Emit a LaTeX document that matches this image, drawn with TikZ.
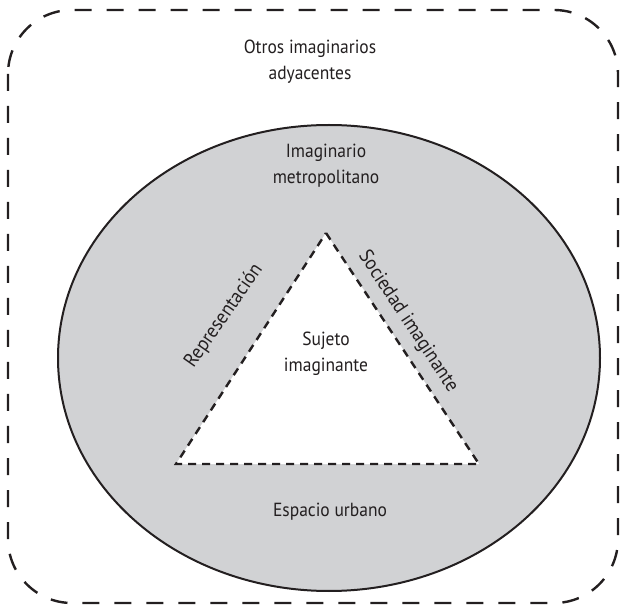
\documentclass[tikz,border=0pt]{standalone}
\usepackage{fontspec}
\setmainfont[FakeStretch=0.92]{PT Sans}
\usetikzlibrary{shapes.geometric}
\definecolor{ink}{HTML}{231F20}
\definecolor{shade}{HTML}{D1D2D4}
\tikzset{
  outerframe/.style={draw=ink, line width=2.4pt, dash pattern=on 17pt off 15pt, rounded corners=64pt},
  region/.style={draw=ink, line width=2pt, fill=shade},
  core/.style={draw=ink, line width=2.4pt, dash pattern=on 8pt off 6pt, fill=white},
  lbl/.style={text=ink, font=\fontsize{19}{26}\selectfont, align=center, inner sep=0pt},
  sidelbl/.style={lbl, font=\fontsize{20}{26}\selectfont},
}
\begin{document}
\begin{tikzpicture}[x=1pt,y=-1pt]
\useasboundingbox (0,0) rectangle (625,615);
% outer dashed frame
\draw[outerframe] (8,10) rectangle (618,603);
% metropolitan ellipse
\node[region, ellipse, minimum width=542pt, minimum height=466pt, inner sep=0pt] (metro) at (329,358) {};
% triangle corners
\coordinate (apex) at (326,233);
\coordinate (bl) at (176,464);
\coordinate (br) at (479,464);
\draw[core] (apex) -- (br) -- (bl) -- cycle;
% side labels
\node[sidelbl, rotate=55] (repr) at (224,316) {Representación};
\path (apex) -- (br) node[sidelbl, sloped, above=10pt, pos=0.43] (soc) {Sociedad imaginante};
% texts
\node[lbl] (otros) at (310,62) {Otros imaginarios\\adyacentes};
\node[lbl] (imag) at (326,166) {Imaginario\\metropolitano};
\node[lbl] (suj) at (326,354) {Sujeto\\imaginante};
\node[lbl] (esp) at (330,512) {Espacio urbano};
\end{tikzpicture}
\end{document}
